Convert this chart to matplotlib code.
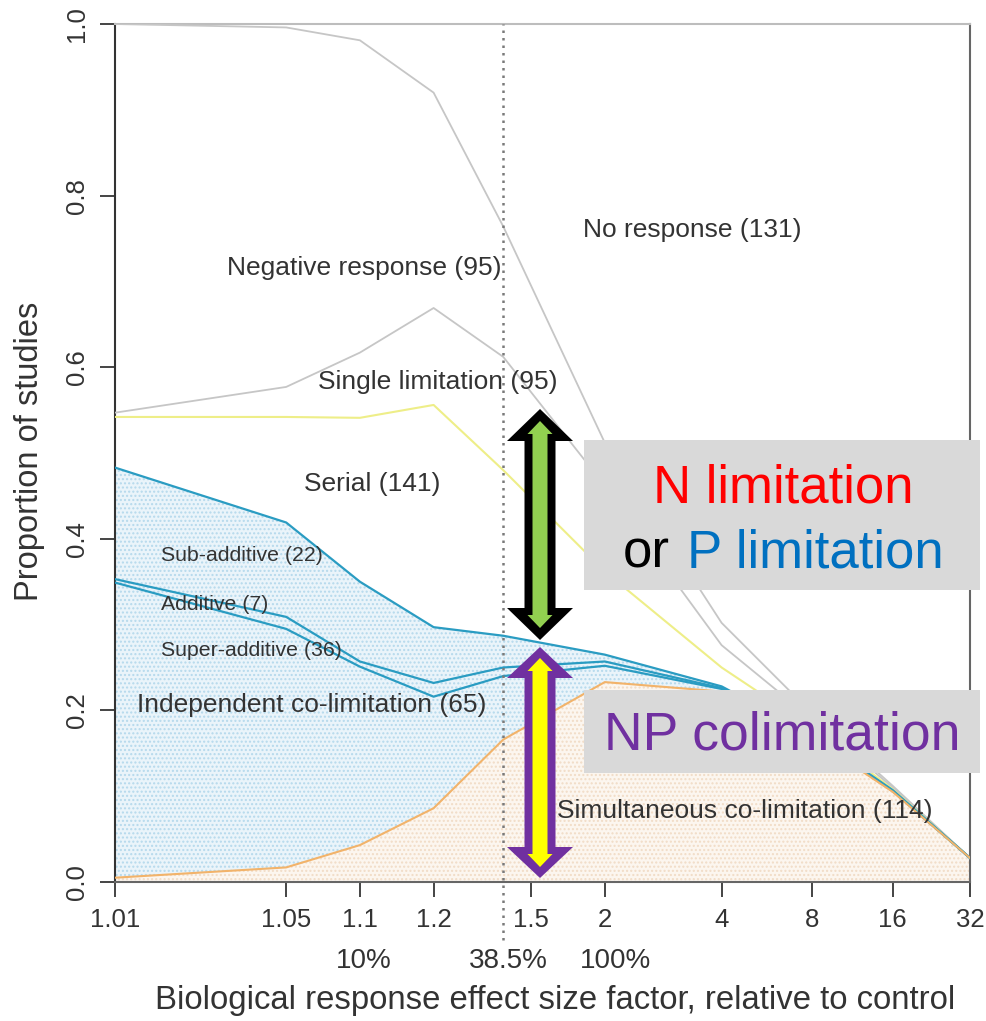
import numpy as np
import matplotlib
matplotlib.use("Agg")
import matplotlib.pyplot as plt
from matplotlib.patches import Polygon, Rectangle
from matplotlib.transforms import blended_transform_factory

plt.rcParams['font.family'] = ['Liberation Sans', 'DejaVu Sans']

# ---------------- data ----------------
effect_size = [1.01, 1.05, 1.1, 1.2, 1.385, 2, 4, 8, 16, 32]
# cumulative upper boundaries of each response class
simultaneous = [0.005, 0.017, 0.043, 0.086, 0.166, 0.233, 0.222, 0.168, 0.105, 0.028]
super_additive = [0.349, 0.295, 0.251, 0.216, 0.240, 0.252, 0.225, 0.170, 0.106, 0.028]
additive = [0.353, 0.309, 0.257, 0.232, 0.250, 0.257, 0.226, 0.171, 0.106, 0.028]
sub_additive = [0.483, 0.419, 0.350, 0.297, 0.287, 0.265, 0.228, 0.172, 0.107, 0.028]
serial = [0.542, 0.542, 0.541, 0.556, 0.480, 0.362, 0.250, 0.180, 0.108, 0.028]
single = [0.547, 0.577, 0.617, 0.669, 0.612, 0.462, 0.276, 0.190, 0.110, 0.028]
negative = [1.000, 0.996, 0.981, 0.920, 0.764, 0.512, 0.302, 0.197, 0.112, 0.028]

x_ticks = [1.01, 1.05, 1.1, 1.2, 1.5, 2, 4, 8, 16, 32]
x_ticklabels = ["1.01", "1.05", "1.1", "1.2", "1.5", "2", "4", "8", "16", "32"]
y_ticks = [0.0, 0.2, 0.4, 0.6, 0.8, 1.0]
y_ticklabels = ["0.0", "0.2", "0.4", "0.6", "0.8", "1.0"]
threshold = 1.385
pct_labels = ["10%", "38.5%", "100%"]

region_labels = ["No response (131)", "Negative response (95)", "Single limitation (95)",
                 "Serial (141)", "Independent co-limitation (65)",
                 "Simultaneous co-limitation (114)"]
small_labels = ["Sub-additive (22)", "Additive (7)", "Super-additive (36)"]

# ---------------- figure ----------------
W, H = 987, 1021
fig = plt.figure(figsize=(W / 100, H / 100), dpi=100)
ax = fig.add_axes([115 / W, 1 - 882 / H, 855 / W, 858 / H])


def fwd(x):
    x = np.asarray(x, dtype=float)
    return np.log(np.maximum(x - 1.0, 1e-9))


def inv(y):
    return np.exp(np.asarray(y, dtype=float)) + 1.0


ax.set_xscale('function', functions=(fwd, inv))
ax.set_xlim(1.01, 32)
ax.set_ylim(0, 1.0)

x = np.array(effect_size)
zero = np.zeros_like(x)

# fills
ax.fill_between(x, zero, simultaneous, facecolor='#fcf6ef', edgecolor='#f1dcc6',
                hatch='....', linewidth=0, zorder=1)
ax.fill_between(x, simultaneous, sub_additive, facecolor='#eaf4fa', edgecolor='#b5d9ec',
                hatch='....', linewidth=0, zorder=1)

# lines
grey = '#c6c6c6'
blue = '#2a9cc2'
ax.plot(x, negative, color=grey, lw=1.3, zorder=3)
ax.plot(x, single, color=grey, lw=1.3, zorder=3)
ax.plot(x, serial, color='#eeee88', lw=1.5, zorder=3)
ax.plot(x, sub_additive, color=blue, lw=1.6, zorder=4)
ax.plot(x, additive, color=blue, lw=1.6, zorder=4)
ax.plot(x, super_additive, color=blue, lw=1.6, zorder=4)
ax.plot(x, simultaneous, color='#f2b36a', lw=1.5, zorder=4)

# threshold line
ax.axvline(threshold, ymin=-0.068, ymax=1.0, color='#7a7a7a', lw=1.8,
           ls=(0, (1, 2)), clip_on=False, zorder=5)

# axes styling
ax.set_xticks(x_ticks)
ax.set_xticklabels(x_ticklabels)
ax.set_yticks(y_ticks)
ax.set_yticklabels(y_ticklabels, rotation=90, va='center')
ax.minorticks_off()
ax.tick_params(axis='both', direction='out', length=11, width=1.4, color='#444',
               labelsize=18.5, labelcolor='#333', pad=8)
for side in ['left', 'bottom', 'right']:
    ax.spines[side].set_linewidth(1.5)
ax.spines['left'].set_color('#333')
ax.spines['bottom'].set_color('#666')
ax.spines['right'].set_color('#666')
ax.spines['top'].set_color('#bdbdbd')
ax.spines['top'].set_linewidth(1.5)

# percent labels under axis
bt = blended_transform_factory(ax.transAxes, ax.transAxes)
for xf, s in zip([0.291, 0.460, 0.585], pct_labels):
    ax.text(xf, -0.092, s, transform=bt, ha='center', va='center', fontsize=20,
            color='#333', clip_on=False)

# region labels
tc = '#333333'
pos = [(0.675, 0.760), (0.291, 0.716), (0.378, 0.583), (0.301, 0.464),
       (0.230, 0.206), (0.737, 0.083)]
for (xf, yf), s in zip(pos, region_labels):
    ax.text(xf, yf, s, transform=ax.transAxes, ha='center', va='center',
            fontsize=19, color=tc, zorder=6)
for yf, s in zip([0.380, 0.324, 0.270], small_labels):
    ax.text(0.054, yf, s, transform=ax.transAxes, ha='left', va='center',
            fontsize=15.3, color=tc, zorder=6)

# axis titles
fig.text(555 / W, 1 - 1000 / H, "Biological response effect size factor, relative to control",
         ha='center', va='center', fontsize=23.7, color='#333')
fig.text(30 / W, 1 - 451 / H, "Proportion of studies", ha='center', va='center',
         rotation=90, fontsize=23.5, color='#333')


# ---------------- overlays ----------------
def fpt(px, py):
    return (px / W, 1 - py / H)


def darrow(cx, ytop, ybot, hw, hl, sw, color, z):
    pts = [(cx, ytop), (cx + hw, ytop + hl), (cx + sw, ytop + hl), (cx + sw, ybot - hl),
           (cx + hw, ybot - hl), (cx, ybot), (cx - hw, ybot - hl), (cx - sw, ybot - hl),
           (cx - sw, ytop + hl), (cx - hw, ytop + hl)]
    poly = Polygon([fpt(*p) for p in pts], closed=True, facecolor=color,
                   edgecolor='none', transform=fig.transFigure, zorder=z)
    fig.add_artist(poly)


darrow(540, 409, 640, 33, 32, 15.5, 'black', 10)
darrow(540, 421, 628, 12.5, 13, 7.5, '#92d050', 11)
darrow(540, 647, 878, 33, 31, 15.5, '#7030a0', 10)
darrow(540, 658, 867, 12.5, 13, 7.5, '#ffff00', 11)

for (x0, y0, x1, y1) in [(584, 440, 980, 590), (584, 690, 980, 773)]:
    r = Rectangle(fpt(x0, y1), (x1 - x0) / W, (y1 - y0) / H, facecolor='#d9d9d9',
                  edgecolor='none', transform=fig.transFigure, zorder=10)
    fig.add_artist(r)

fs_box = 38
fig.text(*fpt(653, 502), "N limitation", color='#ff0000', fontsize=fs_box,
         ha='left', va='baseline', zorder=12)
fig.text(*fpt(623, 567), "or", color='black', fontsize=fs_box,
         ha='left', va='baseline', zorder=12)
fig.text(*fpt(687, 567), "P limitation", color='#0070c0', fontsize=fs_box,
         ha='left', va='baseline', zorder=12)
fig.text(*fpt(604, 750), "NP colimitation", color='#7030a0', fontsize=38.5,
         ha='left', va='baseline', zorder=12)

fig.savefig("out.png", dpi=100)
